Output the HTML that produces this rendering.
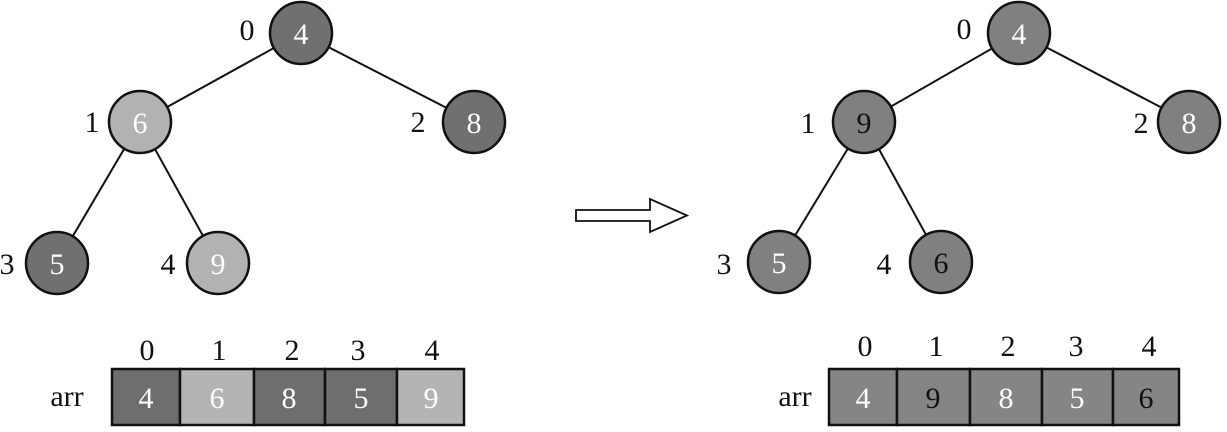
<!DOCTYPE html>
<html><head><style>html,body{margin:0;padding:0;background:#fff;}</style></head>
<body>
<svg width="1227" height="427" viewBox="0 0 1227 427" xmlns="http://www.w3.org/2000/svg" font-family="Liberation Serif, serif" font-size="30">
<g stroke="#111" stroke-width="2">
<line x1="301" y1="33" x2="140" y2="122"/><line x1="301" y1="33" x2="474" y2="122"/>
<line x1="140" y1="122" x2="57" y2="263"/><line x1="140" y1="122" x2="218" y2="263"/>
<line x1="1019" y1="33" x2="864" y2="122"/><line x1="1019" y1="33" x2="1189" y2="122"/>
<line x1="864" y1="122" x2="779" y2="262"/><line x1="864" y1="122" x2="941" y2="262"/>
</g>
<g stroke="#111" stroke-width="2.5">
<circle cx="301" cy="33" r="31" fill="#707070"/>
<circle cx="140" cy="122" r="31" fill="#b2b2b2"/>
<circle cx="474" cy="122" r="31" fill="#707070"/>
<circle cx="57" cy="263" r="31" fill="#707070"/>
<circle cx="218" cy="263" r="31" fill="#b2b2b2"/>
<circle cx="1019" cy="33" r="31" fill="#808080"/>
<circle cx="864" cy="122" r="31" fill="#808080"/>
<circle cx="1189" cy="122" r="31" fill="#808080"/>
<circle cx="779" cy="262" r="31" fill="#808080"/>
<circle cx="941" cy="262" r="31" fill="#808080"/>
</g>
<g text-anchor="middle" fill="#fff">
<text x="301" y="44">4</text><text x="140" y="133">6</text><text x="474" y="133">8</text>
<text x="57" y="274">5</text><text x="218" y="274">9</text>
<text x="1019" y="44">4</text><text x="864" y="133" fill="#111">9</text><text x="1189" y="133">8</text>
<text x="779" y="273">5</text><text x="941" y="273" fill="#111">6</text>
</g>
<g text-anchor="middle" fill="#111">
<text x="247" y="40">0</text><text x="92" y="132">1</text><text x="418" y="132">2</text>
<text x="7" y="274">3</text><text x="168" y="274">4</text>
<text x="964" y="39">0</text><text x="808" y="133">1</text><text x="1141" y="133">2</text>
<text x="724" y="274">3</text><text x="884" y="274">4</text>
</g>
<path d="M576 210 H650 V199 L687 215.5 L650 232 V221 H576 Z" fill="#fff" stroke="#111" stroke-width="1.8"/>
<g stroke="#111" stroke-width="2.5">
<rect x="112" y="369" width="68" height="56" fill="#6e6e6e"/>
<rect x="180" y="369" width="74" height="56" fill="#b4b4b4"/>
<rect x="254" y="369" width="71" height="56" fill="#6e6e6e"/>
<rect x="325" y="369" width="72" height="56" fill="#6e6e6e"/>
<rect x="397" y="369" width="67" height="56" fill="#b4b4b4"/>
<rect x="829" y="369" width="68" height="56" fill="#858585"/>
<rect x="897" y="369" width="73" height="56" fill="#858585"/>
<rect x="970" y="369" width="72" height="56" fill="#858585"/>
<rect x="1042" y="369" width="71" height="56" fill="#858585"/>
<rect x="1113" y="369" width="66" height="56" fill="#858585"/>
</g>
<g text-anchor="middle" fill="#fff">
<text x="146" y="408">4</text><text x="217" y="408">6</text><text x="289" y="408">8</text><text x="361" y="408">5</text><text x="431" y="408">9</text>
<text x="863" y="408">4</text><text x="933" y="408" fill="#111">9</text><text x="1006" y="408">8</text><text x="1077" y="408">5</text><text x="1146" y="408" fill="#111">6</text>
</g>
<g text-anchor="middle" fill="#111">
<text x="147" y="360">0</text><text x="219" y="360">1</text><text x="292" y="360">2</text><text x="358" y="360">3</text><text x="432" y="360">4</text>
<text x="865" y="356">0</text><text x="936" y="356">1</text><text x="1008" y="356">2</text><text x="1076" y="356">3</text><text x="1149" y="356">4</text>
<text x="67" y="406">arr</text><text x="795" y="406">arr</text>
</g>
</svg>
</body></html>
